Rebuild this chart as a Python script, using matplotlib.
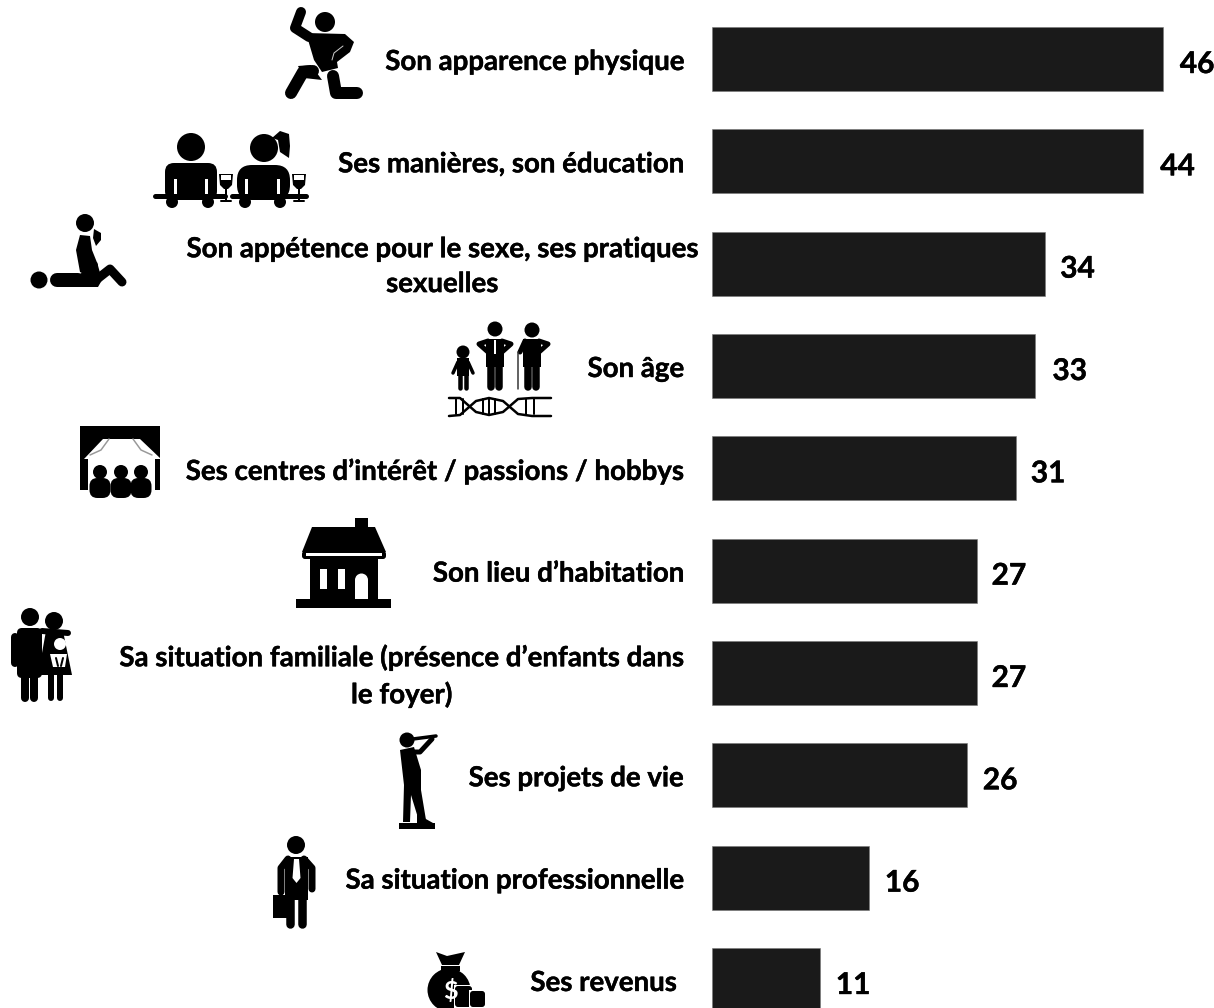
import matplotlib
matplotlib.use('Agg')
import matplotlib.pyplot as plt
import matplotlib.patheffects as pe
from matplotlib.patches import Circle, Polygon, Rectangle, FancyBboxPatch

# chart values, top to bottom
labels = ['Son apparence physique',
          'Ses manières, son éducation',
          'Son appétence pour le sexe, ses pratiques\nsexuelles',
          'Son âge',
          'Ses centres d’intérêt / passions / hobbys',
          'Son lieu d’habitation',
          'Sa situation familiale (présence d’enfants dans\nle foyer)',
          'Ses projets de vie',
          'Sa situation professionnelle',
          'Ses revenus']
values = [46, 44, 34, 33, 31, 27, 27, 26, 16, 11]

W, H = 1214, 1008
PX = 0.72  # one pixel in points at dpi 100
BLACK = '#1a1a1a'
plt.rcParams['font.family'] = ['Lato', 'DejaVu Sans']

fig = plt.figure(figsize=(W / 100, H / 100), dpi=100)

ax = fig.add_axes([0, 0, 1, 1])
ax.set_xlim(-712 / 9.8, (W - 712) / 9.8)
ax.set_ylim((H - 59) / 102.33, -59 / 102.33)
ax.axis('off')

ypos = list(range(len(values)))
ax.barh(ypos, values, height=0.625, color=BLACK, edgecolor='#777777', linewidth=0.4)

label_dx = [-28, -28, -14, -28, -28, -28, -28, -28, -28, -35]
value_dx = [17, 17, 15, 17, 15, 15, 15, 16, 16, 16]
heavy = [pe.withStroke(linewidth=0.3, foreground='black')]
for i in ypos:
    ax.annotate(labels[i], xy=(0, i), xytext=(label_dx[i] * PX, -3 * PX), textcoords='offset points',
                ha='right', va='center', multialignment='center', fontsize=19.9,
                fontweight='bold', color='black', linespacing=1.42, path_effects=heavy)
    ax.annotate(str(values[i]), xy=(values[i], i), xytext=(value_dx[i] * PX, -5 * PX), textcoords='offset points',
                ha='left', va='center', fontsize=21.5, fontweight='bold', color='black', path_effects=heavy)

# pictograms, in pixel coordinates of the picture
ic = fig.add_axes([0, 0, 1, 1])
ic.set_xlim(0, W)
ic.set_ylim(H, 0)
ic.axis('off')
ic.patch.set_alpha(0)


def dot(x, y, r, c='black'):
    ic.add_patch(Circle((x, y), r, fc=c, ec='none'))


def poly(pts, c='black'):
    ic.add_patch(Polygon(pts, closed=True, fc=c, ec='none'))


def box(x0, y0, x1, y1, c='black'):
    ic.add_patch(Rectangle((x0, y0), x1 - x0, y1 - y0, fc=c, ec='none'))


def rbox(x0, y0, x1, y1, r, c='black'):
    ic.add_patch(FancyBboxPatch((x0 + r, y0 + r), x1 - x0 - 2 * r, y1 - y0 - 2 * r,
                                boxstyle='round,pad=%f,rounding_size=%f' % (r, r), fc=c, ec='none'))


def line(pts, w, c='black', cap='round'):
    ic.plot([p[0] for p in pts], [p[1] for p in pts], color=c, lw=w * PX,
            solid_capstyle=cap, solid_joinstyle='round')


# apparence physique
dot(325, 22, 10)
line([(301, 12), (295, 28), (309, 37)], 10)
poly([(306, 33), (345, 34), (354, 42), (350, 52), (337, 62), (338, 68), (322, 72), (314, 60)])
line([(343, 46), (334, 53), (332, 60)], 1, '#cccccc')
line([(291, 93), (303, 72), (313, 71)], 12)
poly([(298, 66), (311, 65), (322, 80), (304, 78)])
line([(333, 76), (336, 93), (357, 93)], 12)

# manieres
dot(191, 147, 14)
dot(264, 148, 14)
poly([(272, 138), (280, 131), (289, 134), (290, 146), (289, 158), (280, 152), (278, 140)])
rbox(165, 163, 217, 200, 9)
rbox(237, 165, 290, 200, 15)
line([(155, 196), (225, 196)], 5)
line([(232, 196), (306, 196)], 5)
for xc in [175, 206, 246, 278]:
    box(xc - 1.5, 179, xc + 1.5, 194, 'white')
for xc in [172, 208, 245, 280]:
    dot(xc, 202, 6)
for xc in [226, 299]:
    poly([(xc - 7, 174), (xc + 7, 174), (xc + 6, 185), (xc + 2, 189), (xc - 2, 189), (xc - 6, 185)])
    box(xc - 5, 175, xc + 5, 180, 'white')
    line([(xc, 188), (xc, 201)], 2)
    line([(xc - 5, 201), (xc + 5, 201)], 2)

# sexe
dot(85, 223, 9)
poly([(94, 229), (101, 233), (101, 240), (96, 246), (93, 238)])
poly([(80, 235), (90, 236), (92, 250), (98, 265), (96, 280), (80, 272), (76, 250)])
dot(39, 280, 8.5)
line([(57, 280), (78, 280)], 14)
poly([(69, 287), (84, 270), (97, 262), (102, 280), (98, 287)])
line([(96, 280), (110, 269), (122, 282)], 9)

# age
dot(463, 352, 6.5)
box(457, 358, 469, 376)
line([(458, 362), (453, 373)], 3.5)
line([(468, 362), (473, 373)], 3.5)
line([(460, 375), (460, 388)], 4.5)
line([(466, 375), (466, 388)], 4.5)
for xc in [495, 532]:
    box(xc - 9, 339, xc + 9, 367)
    line([(xc - 4, 366), (xc - 4, 387)], 7.5)
    line([(xc + 4, 366), (xc + 4, 387)], 7.5)
dot(495, 329, 7.5)
dot(532, 330, 7.5)
box(494.2, 340, 495.8, 354, 'white')
line([(488, 341), (479, 344), (488, 352)], 5)
line([(502, 341), (511, 344), (502, 352)], 5)
line([(525, 341), (520, 352)], 5)
line([(539, 341), (548, 344), (539, 352)], 5)
line([(518, 352), (518, 389)], 1.5, '#333333')
wave_a = [(449, 398), (460, 398), (476, 412), (489, 415), (503, 412), (518, 399), (532, 398), (551, 398)]
wave_b = [(449, 416), (460, 415), (476, 401), (489, 398), (503, 401), (518, 414), (532, 416), (551, 416)]
line(wave_a, 2.5)
line(wave_b, 2.5)
for xc in [456, 463, 483, 489, 495, 526, 534]:
    line([(xc, 399), (xc, 414)], 2)

# centres d'interet
box(80, 426, 160, 490)
poly([(103, 439), (140, 439), (161, 459), (84, 459)], 'white')
box(88, 458, 155, 491, 'white')
line([(90, 455), (101, 450), (109, 439)], 1.5, '#999999')
line([(152, 455), (141, 450), (133, 439)], 1.5, '#999999')
for xc in [100, 121, 141]:
    dot(xc, 472, 7)
    rbox(xc - 10.5, 478, xc + 10.5, 498, 8)

# lieu d'habitation
box(355, 518, 368, 532)
poly([(312, 527), (375, 527), (386, 552), (302, 552)])
rbox(302, 551, 386, 559, 3)
box(306, 553, 382, 556, 'white')
box(310, 558, 378, 601)
box(296, 599, 391, 608)
box(320, 569, 327, 589, 'white')
box(338, 569, 345, 589, 'white')
box(355, 580, 368, 599, 'white')
dot(361.5, 580, 6.5, 'white')

# situation familiale
dot(30, 617, 9)
dot(54, 621, 9)
rbox(17, 628, 42, 678, 5)
line([(15, 637), (15, 663)], 8)
line([(25, 675), (25, 698)], 8)
line([(34, 675), (34, 698)], 8)
poly([(46, 631), (63, 631), (72, 675), (38, 675)])
line([(42, 631), (68, 633)], 6)
line([(51, 675), (51, 698)], 6)
line([(60, 675), (60, 698)], 6)
dot(60, 644, 6, 'white')
poly([(50, 654), (67, 654), (65, 667), (53, 667)], 'white')
line([(56, 658), (58, 666)], 2)
line([(63, 658), (61, 666)], 2)

# projets de vie
dot(407, 740, 7.5)
line([(413, 739), (436, 736)], 3.5)
line([(408, 752), (420, 752), (432, 739)], 5)
poly([(400, 750), (414, 747), (421, 770), (421, 790), (426, 820), (419, 821), (411, 795), (410, 822), (403, 822), (404, 785)])
box(399, 823, 435, 829)
poly([(417, 814), (433, 823), (417, 824)])

# situation professionnelle
dot(296, 845, 9)
box(285, 857, 308, 900)
line([(281, 892), (281, 868), (288, 859)], 7)
line([(312, 889), (312, 868), (304, 859)], 7)
line([(290, 895), (290, 924)], 8.5)
line([(302, 895), (302, 924)], 8.5)
poly([(294, 859), (299, 859), (300.5, 878), (296.5, 883), (292.5, 878)], 'white')
box(273, 895, 288, 918)

# revenus
poly([(436, 952), (447, 956), (465, 952), (459, 965), (442, 965)])
box(441, 966, 460, 971)
dot(449, 990, 21.5)
poly([(441, 970), (458, 970), (468, 985), (431, 985)])
ic.text(450, 991, '$', color='white', fontsize=18, fontweight='bold', ha='center', va='center')
for x0, x1, top in [(455, 472, 986), (470, 485, 991)]:
    box(x0 - 1, top - 1, x1 + 1, H, 'white')
    rbox(x0, top, x1, 1007, 3)

fig.savefig('out.png', dpi=100)
